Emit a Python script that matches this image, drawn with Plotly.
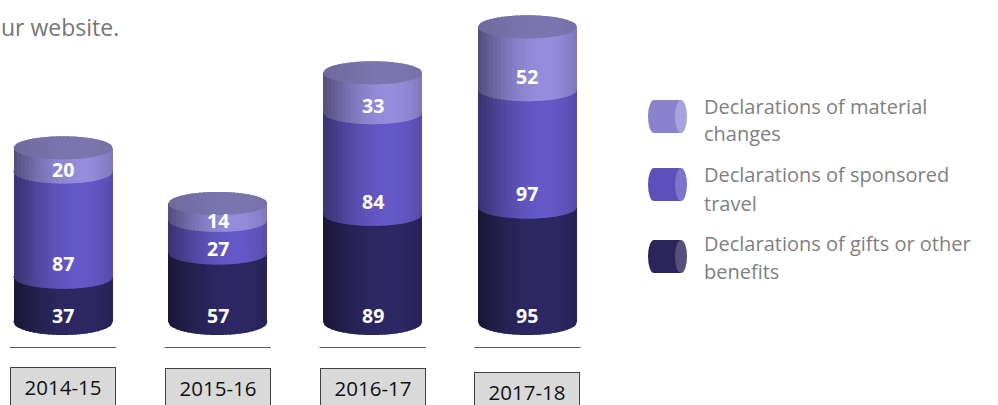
import numpy as np
import plotly.graph_objects as go

# ---------------- data ----------------
categories = ["2014-15", "2015-16", "2016-17", "2017-18"]
gifts = [37, 57, 89, 95]
travel = [87, 27, 84, 97]
material = [20, 14, 33, 52]
series_names = [
    "Declarations of gifts or other benefits",
    "Declarations of sponsored travel",
    "Declarations of material changes",
]
legend_lines = [
    ["Declarations of material", "changes"],
    ["Declarations of sponsored", "travel"],
    ["Declarations of gifts or other", "benefits"],
]
header_text = "ur website."

# ---------------- style / geometry ----------------
W, H = 998, 405
PLOT_W = 620                      # plot area width in px (left part of figure)
Y0_PX = 322                       # pixel row of value 0
PX_PER_UNIT = 1.21
CAT_SPACING_PX = 154.8
FIRST_CENTER_PX = 63
HALF_W_PX = 49.5
ELL_PX = 11.5                     # half height of ellipses in px
BOTTOM_ELL_PX = 13
N_STRIPS = 26
FONT = "Open Sans"

peak_colors = [(46, 41, 100), (102, 89, 200), (150, 141, 221)]
cap_peak = (124, 117, 175)

x0 = -FIRST_CENTER_PX / CAT_SPACING_PX
x1 = x0 + PLOT_W / CAT_SPACING_PX
y_top = Y0_PX / PX_PER_UNIT
y_bot = -(H - Y0_PX) / PX_PER_UNIT
R = HALF_W_PX / CAT_SPACING_PX
EH = ELL_PX / PX_PER_UNIT
EH_BOTTOM = BOTTOM_ELL_PX / PX_PER_UNIT
xs = np.arange(len(categories))


def shade_factor(t):
    if t < 0.68:
        return 0.56 + 0.44 * np.sin(np.pi / 2 * t / 0.68)
    return 1.0 - 0.16 * ((t - 0.68) / 0.32) ** 2


def shade(rgb, t):
    f = shade_factor(t)
    return "rgb(%d,%d,%d)" % tuple(int(min(255, c * f)) for c in rgb)


def px_x(px):
    return px / W


def px_y(py):
    return 1 - py / H


series_vals = [gifts, travel, material]
bases = [
    [0] * len(categories),
    list(gifts),
    [g + t for g, t in zip(gifts, travel)],
]
totals = [g + t + m for g, t, m in zip(gifts, travel, material)]

fig = go.Figure()
shapes = []
sw = 2 * R / N_STRIPS

# cylinder bodies as shaded vertical strips of bars
for s, vals in enumerate(series_vals):
    for j in range(N_STRIPS):
        t = (j + 0.5) / N_STRIPS
        w = sw if j == N_STRIPS - 1 else sw * 1.6
        fig.add_trace(go.Bar(
            x=xs, y=vals, base=bases[s],
            width=w, offset=-R + j * sw,
            marker=dict(color=shade(peak_colors[s], t), line=dict(width=0), opacity=1),
            name=series_names[s], showlegend=False, hoverinfo="skip",
        ))


def curve_y(x, c, eh=EH):
    u = np.clip((x - c) / R, -1, 1)
    return eh * np.sqrt(1 - u * u)


# front bottom curves of every segment (bulging downward)
for s, vals in enumerate(series_vals):
    eh = EH_BOTTOM if s == 0 else EH
    for i in range(len(categories)):
        b = bases[s][i]
        c = xs[i]
        for j in range(N_STRIPS):
            t = (j + 0.5) / N_STRIPS
            xa = c - R + j * sw
            xb = min(c + R, xa + sw * 1.6)
            pts = np.linspace(xa, xb, 5)
            d = "M %.5f,%.4f " % (xa, b + 1.0)
            for xp in pts:
                d += "L %.5f,%.4f " % (xp, b - curve_y(xp, c, eh))
            d += "L %.5f,%.4f Z" % (xb, b + 1.0)
            shapes.append(dict(type="path", xref="x", yref="y", path=d,
                               fillcolor=shade(peak_colors[s], t),
                               line=dict(width=0), layer="above"))

# top caps
for i in range(len(categories)):
    top = totals[i]
    c = xs[i]
    for j in range(N_STRIPS):
        t = (j + 0.5) / N_STRIPS
        xa = c - R + j * sw
        xb = min(c + R, xa + sw * 1.6)
        pts = np.linspace(xa, xb, 5)
        d = ""
        for k, xp in enumerate(pts):
            d += ("M " if k == 0 else "L ") + "%.5f,%.4f " % (xp, top + curve_y(xp, c))
        for xp in pts[::-1]:
            d += "L %.5f,%.4f " % (xp, top - curve_y(xp, c))
        d += "Z"
        cf = 0.78 + 0.22 * shade_factor(t)
        col = "rgb(%d,%d,%d)" % tuple(int(v * cf) for v in cap_peak)
        shapes.append(dict(type="path", xref="x", yref="y", path=d,
                           fillcolor=col, line=dict(width=0), layer="above"))

annotations = []
# value labels
for s, vals in enumerate(series_vals):
    for i, v in enumerate(vals):
        if s == 0:
            rel = 5.0
        else:
            rel = float(np.clip(0.3 * v - 4, -2, 11))
        annotations.append(dict(
            x=xs[i], y=bases[s][i] + rel, xref="x", yref="y",
            text="<b>%d</b>" % v, showarrow=False,
            font=dict(family=FONT, size=19.5, color="white"),
            xanchor="center", yanchor="middle",
        ))

# baseline rules and category boxes
box_tops_px = [367, 368, 368, 372]
for i, cat in enumerate(categories):
    shapes.append(dict(type="line", xref="x", yref="paper",
                       x0=xs[i] - 0.343, x1=xs[i] + 0.343,
                       y0=px_y(347.5), y1=px_y(347.5),
                       line=dict(color="#595959", width=1)))
    annotations.append(dict(
        x=xs[i], xref="x", y=px_y(box_tops_px[i]), yref="paper",
        text=cat, showarrow=False, xanchor="center", yanchor="top",
        font=dict(family=FONT, size=20.5, color="#111111"),
        bgcolor="#d9d9d9", bordercolor="#404040", borderwidth=1, borderpad=2,
        width=100, height=34, valign="middle",
    ))

# header fragment
annotations.append(dict(
    x=px_x(121), y=px_y(27), xref="paper", yref="paper",
    text=header_text, showarrow=False, xanchor="right", yanchor="middle",
    font=dict(family=FONT, size=23, color="#767676"),
))

# custom legend (cylinder icons + two-line labels)
legend_order = [2, 1, 0]
icon_tops = [100, 168, 240]
line1_y = [106, 175, 243]
icon_body = ["#8a82cc", "#5d51b9", "#2b255c"]
icon_end = ["#a9a3dd", "#7e74cb", "#57507f"]
for k, s in enumerate(legend_order):
    top = icon_tops[k]
    bot = top + 33
    shapes.append(dict(type="circle", xref="paper", yref="paper",
                       x0=px_x(648), x1=px_x(660), y0=px_y(bot), y1=px_y(top),
                       fillcolor=icon_body[k], line=dict(width=0)))
    shapes.append(dict(type="rect", xref="paper", yref="paper",
                       x0=px_x(654), x1=px_x(681), y0=px_y(bot), y1=px_y(top),
                       fillcolor=icon_body[k], line=dict(width=0)))
    shapes.append(dict(type="circle", xref="paper", yref="paper",
                       x0=px_x(675), x1=px_x(687), y0=px_y(bot), y1=px_y(top),
                       fillcolor=icon_end[k], line=dict(width=0)))
    for ln, txt in enumerate(legend_lines[k]):
        annotations.append(dict(
            x=px_x(702), y=px_y(line1_y[k] + 28 * ln), xref="paper", yref="paper",
            text=txt, showarrow=False, xanchor="left", yanchor="middle",
            font=dict(family=FONT, size=20, color="#7f7f7f"),
        ))

fig.update_layout(
    width=W, height=H,
    margin=dict(l=0, r=0, t=0, b=0),
    paper_bgcolor="white", plot_bgcolor="white",
    barmode="overlay", bargap=0,
    showlegend=False,
    xaxis=dict(domain=[0, PLOT_W / W], range=[x0, x1], visible=False, fixedrange=True),
    yaxis=dict(domain=[0, 1], range=[y_bot, y_top], visible=False, fixedrange=True),
    shapes=shapes,
    annotations=annotations,
)

fig.write_html(
    "out.html",
    config={"displayModeBar": False, "staticPlot": True},
    post_script="document.body.style.margin='0';document.body.style.overflow='hidden';",
)
